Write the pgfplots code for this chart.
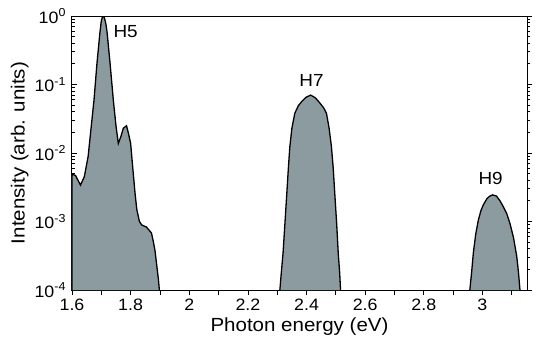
\documentclass[border=0pt]{standalone}
\usepackage{pgfplots}
\pgfplotsset{compat=1.18}
\usepackage{fontspec}
\setmainfont{Liberation Sans}[FakeStretch=1.08]
\definecolor{hfill}{RGB}{139,155,160}
\begin{document}
\begin{tikzpicture}
\begin{axis}[
  scale only axis,
  width=455pt, height=274pt,
  ymode=log,
  xmin=1.6, xmax=3.152,
  ymin=1e-4, ymax=1,
  xtick={1.6,1.7,...,3.15},
  xticklabels={1.6,,1.8,,2,,2.2,,2.4,,2.6,,2.8,,3,},
  ytick={1e-4,1e-3,1e-2,1e-1,1},
  yticklabels={10\textsuperscript{-4},10\textsuperscript{-3},10\textsuperscript{-2},10\textsuperscript{-1},10\textsuperscript{0}},
  xtick pos=lower,
  ytick pos=both,
  yticklabel pos=left,
  xtick align=outside,
  ytick align=center,
  major tick length=5pt,
  minor tick length=3pt,
  tick style={black, line width=0.8pt},
  major y tick style={xshift=2.5pt},
  minor y tick style={xshift=1.5pt},
  axis line style={line width=1pt},
  ticklabel style={font=\fontsize{16.5}{18}\selectfont},
  label style={font=\fontsize{19}{21}\selectfont},
  xlabel={Photon energy (eV)},
  ylabel={Intensity (arb. units)},
  xlabel style={yshift=-1pt},
  ylabel style={yshift=-1pt},
  clip=true,
]
\addplot[fill=hfill, draw=black, line width=1.3pt] coordinates {
(1.6,1e-4) (1.6,4.9e-3) (1.612,4.7e-3) (1.629,3.4e-3) (1.642,4.5e-3) (1.655,8.9e-3) (1.665,2.3e-2)
(1.675,5.9e-2) (1.685,0.2) (1.695,0.56) (1.700,0.85) (1.704,0.97) (1.707,1.0) (1.711,0.93) (1.716,0.75) (1.72,0.56)
(1.73,0.2) (1.741,0.059) (1.75,0.025) (1.758,0.0138) (1.767,0.0175) (1.775,0.023) (1.786,0.025)
(1.793,0.019) (1.8,0.0138) (1.809,5.0e-3) (1.815,2.6e-3) (1.821,1.5e-3) (1.83,1.0e-3) (1.838,8.9e-4)
(1.854,8.3e-4) (1.865,7.3e-4) (1.871,6.8e-4) (1.877,5.2e-4) (1.883,3.8e-4) (1.889,2.3e-4) (1.895,1.4e-4) (1.898,1e-4)
};
\addplot[fill=hfill, draw=black, line width=1.3pt] coordinates {
(2.309,1e-4) (2.314,1.8e-4) (2.320,3.5e-4) (2.326,9e-4) (2.332,2.3e-3) (2.338,6e-3) (2.343,1.23e-2)
(2.350,2.3e-2) (2.360,3.8e-2) (2.372,4.9e-2) (2.383,5.6e-2) (2.398,6.5e-2) (2.414,7.0e-2)
(2.430,6.4e-2) (2.445,5.4e-2) (2.458,4.6e-2) (2.468,3.8e-2) (2.477,2.3e-2) (2.485,1.23e-2)
(2.491,6e-3) (2.497,2.3e-3) (2.503,9e-4) (2.508,3.5e-4) (2.513,1.8e-4) (2.516,1e-4)
};
\addplot[fill=hfill, draw=black, line width=1.3pt] coordinates {
(2.957,1e-4) (2.963,1.8e-4) (2.969,3.5e-4) (2.977,6.5e-4) (2.986,1.05e-3) (2.995,1.45e-3) (3.003,1.75e-3)
(3.015,2.15e-3) (3.025,2.35e-3) (3.035,2.45e-3) (3.048,2.35e-3) (3.060,2.0e-3) (3.071,1.65e-3)
(3.083,1.3e-3) (3.094,9.3e-4) (3.106,5.8e-4) (3.117,3.1e-4) (3.123,1.8e-4) (3.128,1e-4)
};
\node[font=\fontsize{17.5}{19}\selectfont] at (axis cs:1.783,0.6) {H5};
\node[font=\fontsize{17.5}{19}\selectfont] at (axis cs:2.417,0.116) {H7};
\node[font=\fontsize{17.5}{19}\selectfont] at (axis cs:3.028,0.0042) {H9};
\end{axis}
\useasboundingbox (-72pt,-51pt) rectangle (473pt,290pt);
\end{tikzpicture}
\end{document}
